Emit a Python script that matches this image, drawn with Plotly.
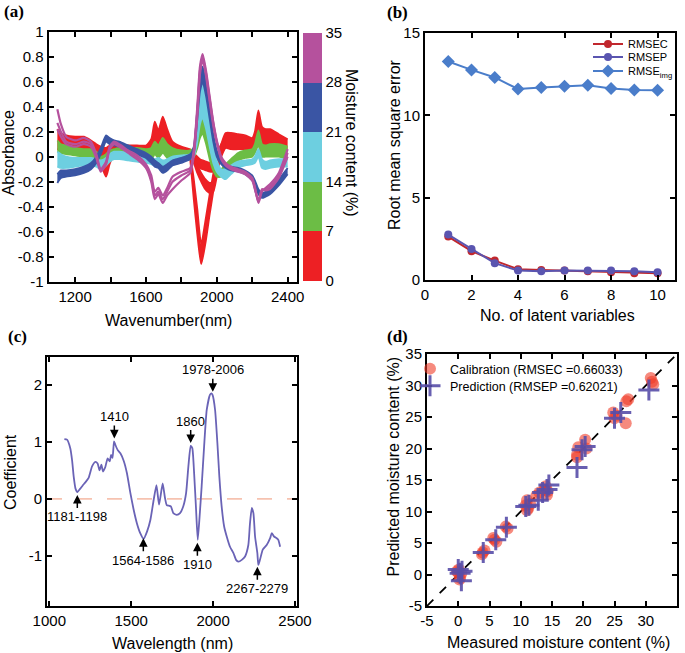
import plotly.graph_objects as go

# ---------------- data: panel (a) spectra ----------------
W = [1100, 1120, 1150, 1200, 1250, 1290, 1320, 1345, 1375, 1395,
     1420, 1450, 1500, 1550, 1600, 1630, 1650, 1670, 1695, 1720,
     1750, 1800, 1850, 1870, 1890, 1905, 1920, 1940, 1960, 1980,
     2000, 2025, 2050, 2080, 2120, 2160, 2200, 2215, 2235, 2255,
     2275, 2300, 2350, 2400]

RED_HI = [0.22, 0.19, 0.17, 0.16, 0.16, 0.13, 0.10, 0.08, 0.07, 0.09,
          0.10, 0.10, 0.09, 0.09, 0.09, 0.14, 0.28, 0.21, 0.32, 0.22,
          0.12, 0.08, 0.06, 0.03, 0.00, -0.02, -0.03, -0.04, -0.05, -0.06,
          -0.03, 0.10, 0.19, 0.19, 0.18, 0.17, 0.15, 0.20, 0.37, 0.24,
          0.22, 0.22, 0.18, 0.14]
RED_LO = [0.06, 0.05, 0.05, 0.04, 0.04, 0.02, -0.02, -0.06, -0.16, -0.06,
          0.02, 0.04, 0.04, 0.04, 0.04, 0.05, 0.10, 0.07, 0.12, 0.07,
          0.04, 0.02, 0.00, -0.02, -0.06, -0.09, -0.10, -0.11, -0.12, -0.12,
          -0.10, 0.00, 0.07, 0.06, 0.06, 0.06, 0.05, 0.07, 0.15, 0.06,
          0.06, 0.07, 0.07, 0.05]

W_LOOP = [1850, 1870, 1890, 1912, 1935, 1960, 1980, 2000, 2025, 2050]
RED_MID_HI = [0.03, -0.01, -0.07, -0.13, -0.18, -0.21, -0.20, -0.08, 0.06, 0.12]
RED_MID_LO = [0.00, -0.05, -0.13, -0.20, -0.26, -0.29, -0.28, -0.16, 0.02, 0.08]
RED_BIG_HI = [0.03, -0.18, -0.42, -0.70, -0.52, -0.30, -0.14, 0.00, 0.10, 0.15]
RED_BIG_LO = [-0.02, -0.34, -0.62, -0.86, -0.70, -0.46, -0.28, -0.10, 0.04, 0.08]

GREEN_HI = [0.13, 0.10, 0.09, 0.07, 0.06, 0.06, 0.04, 0.00, 0.02, 0.05,
            0.06, 0.07, 0.07, 0.07, 0.06, 0.07, 0.12, 0.09, 0.15, 0.10,
            0.07, 0.05, 0.05, 0.07, 0.16, 0.27, 0.31, 0.22, 0.08, -0.04,
            -0.10, -0.10, -0.06, -0.02, 0.03, 0.05, 0.06, 0.10, 0.21, 0.10,
            0.09, 0.10, 0.10, 0.08]
GREEN_LO = [0.04, 0.03, 0.02, 0.01, 0.00, -0.01, -0.04, -0.08, -0.05, -0.02,
            -0.01, -0.01, -0.02, -0.03, -0.04, -0.03, 0.02, -0.01, 0.03, -0.01,
            -0.03, -0.03, -0.02, 0.00, 0.07, 0.15, 0.18, 0.10, -0.02, -0.11,
            -0.16, -0.16, -0.12, -0.08, -0.03, -0.01, 0.00, 0.03, 0.09, 0.00,
            0.00, 0.00, 0.00, -0.02]

CYAN_HI = [0.04, 0.02, 0.00, -0.01, -0.01, -0.01, -0.02, -0.03, -0.01, 0.02,
           0.04, 0.04, 0.03, 0.02, 0.00, -0.01, -0.02, -0.01, -0.03, -0.02,
           0.00, 0.01, 0.02, 0.06, 0.30, 0.55, 0.63, 0.50, 0.30, 0.10,
           -0.03, -0.10, -0.10, -0.07, -0.04, -0.03, -0.02, 0.00, 0.06, -0.02,
           -0.04, -0.03, -0.02, -0.02]
CYAN_LO = [-0.08, -0.09, -0.09, -0.08, -0.07, -0.07, -0.08, -0.10, -0.07, -0.04,
           -0.02, -0.02, -0.03, -0.04, -0.05, -0.06, -0.07, -0.06, -0.08, -0.07,
           -0.04, -0.03, -0.02, 0.00, 0.12, 0.26, 0.31, 0.22, 0.08, -0.05,
           -0.12, -0.16, -0.18, -0.14, -0.09, -0.07, -0.06, -0.05, 0.00, -0.09,
           -0.10, -0.09, -0.08, -0.08]

BLUE_HI = [-0.14, -0.11, -0.11, -0.10, -0.08, -0.05, 0.00, 0.07, 0.17, 0.15,
           0.13, 0.12, 0.09, 0.06, 0.03, 0.00, -0.03, -0.05, -0.08, -0.06,
           -0.03, -0.01, 0.02, 0.08, 0.38, 0.63, 0.72, 0.58, 0.38, 0.18,
           0.05, -0.03, -0.06, -0.08, -0.09, -0.11, -0.15, -0.19, -0.26, -0.29,
           -0.28, -0.25, -0.18, -0.09]
BLUE_LO = [-0.21, -0.17, -0.16, -0.15, -0.13, -0.10, -0.05, 0.02, 0.12, 0.10,
           0.09, 0.08, 0.05, 0.02, -0.01, -0.05, -0.08, -0.09, -0.13, -0.11,
           -0.07, -0.05, -0.02, 0.03, 0.30, 0.52, 0.60, 0.48, 0.30, 0.12,
           0.00, -0.06, -0.09, -0.11, -0.12, -0.14, -0.19, -0.23, -0.30, -0.33,
           -0.32, -0.30, -0.23, -0.14]

MAG_1 = [0.38, 0.26, 0.16, 0.13, 0.15, 0.12, 0.02, -0.10, -0.04, 0.08,
         0.12, 0.10, 0.05, 0.01, -0.06, -0.15, -0.28, -0.25, -0.31, -0.25,
         -0.16, -0.12, -0.09, 0.05, 0.40, 0.72, 0.82, 0.68, 0.48, 0.28,
         0.13, 0.00, -0.05, -0.08, -0.10, -0.12, -0.17, -0.24, -0.37, -0.28,
         -0.25, -0.22, -0.13, 0.06]
MAG_2 = [0.27, 0.20, 0.12, 0.10, 0.12, 0.10, 0.00, -0.11, -0.05, 0.07,
         0.11, 0.09, 0.04, -0.01, -0.08, -0.18, -0.31, -0.28, -0.34, -0.28,
         -0.20, -0.15, -0.11, 0.03, 0.36, 0.69, 0.80, 0.66, 0.46, 0.27,
         0.12, -0.01, -0.06, -0.09, -0.11, -0.13, -0.18, -0.25, -0.36, -0.27,
         -0.26, -0.24, -0.15, 0.03]
MAG_3 = [0.22, 0.16, 0.10, 0.08, 0.10, 0.08, -0.01, -0.12, -0.06, 0.06,
         0.10, 0.08, 0.03, -0.02, -0.09, -0.20, -0.34, -0.30, -0.37, -0.31,
         -0.26, -0.19, -0.13, 0.01, 0.32, 0.66, 0.78, 0.64, 0.44, 0.25,
         0.11, -0.02, -0.07, -0.10, -0.12, -0.14, -0.19, -0.26, -0.35, -0.26,
         -0.27, -0.26, -0.17, 0.00]

MOIST_TICKS = [0, 7, 14, 21, 28, 35]
A_XTICKS = [1200, 1600, 2000, 2400]
A_XMINOR = [1400, 1800, 2200]
A_YTICKS = [1, 0.8, 0.6, 0.4, 0.2, 0, -0.2, -0.4, -0.6, -0.8, -1]
A_YLABELS = ["1", "0.8", "0.6", "0.4", "0.2", "0", "-0.2", "-0.4", "-0.6", "-0.8", "-1"]

# ---------------- data: panel (b) ----------------
LV = [1, 2, 3, 4, 5, 6, 7, 8, 9, 10]
RMSEC = [2.64, 1.75, 1.18, 0.65, 0.61, 0.57, 0.53, 0.47, 0.41, 0.41]
RMSEP = [2.76, 1.89, 1.02, 0.57, 0.53, 0.57, 0.57, 0.57, 0.53, 0.47]
RMSE_IMG = [13.27, 12.76, 12.30, 11.60, 11.69, 11.77, 11.83, 11.63, 11.54, 11.52]

# ---------------- data: panel (c) ----------------
COEF_WL = [1092, 1108, 1128, 1139, 1149, 1160, 1172, 1189, 1205, 1220,
           1240, 1261, 1281, 1295, 1307, 1318, 1328, 1342, 1356, 1369,
           1377, 1386, 1395, 1403, 1417, 1434, 1454, 1474, 1495, 1515,
           1535, 1555, 1576, 1597, 1617, 1637, 1654, 1670, 1692, 1706,
           1717, 1730, 1742, 1757, 1778, 1798, 1818, 1835, 1849, 1863,
           1873, 1884, 1896, 1906, 1916, 1930, 1945, 1961, 1981, 1990,
           1997, 2012, 2026, 2038, 2052, 2067, 2083, 2103, 2124, 2140,
           2154, 2175, 2195, 2215, 2225, 2236, 2246, 2256, 2270, 2276,
           2286, 2303, 2327, 2348, 2358, 2372, 2388, 2398, 2409]
COEF_VAL = [1.05, 1.04, 0.89, 0.68, 0.39, 0.18, 0.12, 0.18, 0.24, 0.29,
            0.37, 0.57, 0.65, 0.62, 0.50, 0.60, 0.48, 0.56, 0.71, 0.66,
            0.77, 0.72, 1.01, 0.95, 0.86, 0.80, 0.67, 0.45, 0.10, -0.19,
            -0.43, -0.60, -0.70, -0.57, -0.37, -0.02, 0.24, -0.10, 0.27, 0.02,
            -0.11, -0.12, -0.13, -0.25, -0.28, -0.25, -0.13, 0.10, 0.57, 0.93,
            0.89, 0.45, -0.19, -0.72, -0.37, 0.22, 0.92, 1.56, 1.83, 1.85,
            1.82, 1.56, 0.98, 0.39, -0.13, -0.48, -0.66, -0.84, -0.95, -1.07,
            -1.10, -1.07, -1.01, -0.81, -0.43, -0.16, -0.25, -0.66, -0.95, -1.16,
            -1.07, -0.89, -0.81, -0.69, -0.60, -0.66, -0.69, -0.72, -0.84]

PEAK_LABELS = ["1410", "1860", "1978-2006", "1181-1198", "1564-1586", "1910", "2267-2279"]
PEAK_X = [1397, 1863, 1998, 1171, 1574, 1904, 2270]
PEAK_Y = [1.06, 0.98, 1.88, 0.07, -0.69, -0.77, -1.19]
PEAK_UP = [True, True, True, False, False, False, False]

# ---------------- data: panel (d) ----------------
CAL_X = [0.0, 0.3, -0.2, 0.5, 0.2, 0.1, 3.8, 4.2, 3.9, 5.8, 6.1, 5.6, 7.6, 7.9,
         11.0, 11.2, 11.0, 11.5, 10.8, 12.5, 13.0, 14.2, 14.0, 13.8, 14.3,
         19.0, 19.2, 19.0, 20.3, 20.5, 24.8, 25.0, 25.3, 26.9, 27.2, 26.8,
         30.8, 31.0, 31.2]
CAL_Y = [0.3, -0.5, 0.5, 0.2, -0.8, 0.8, 3.2, 3.8, 3.5, 5.5, 5.2, 5.8, 7.6, 7.3,
         11.8, 10.5, 10.2, 11.2, 11.0, 12.5, 13.0, 12.6, 14.0, 13.5, 13.2,
         19.0, 20.2, 18.6, 21.4, 20.0, 25.7, 24.8, 25.2, 27.5, 27.8, 24.0,
         31.2, 30.6, 30.2]
PRED_X = [0.3, 0.5, 0.0, 0.6, 4.0, 6.0, 7.7, 10.8, 11.3, 12.8, 13.5, 14.5, 14.2,
          19.0, 19.8, 20.3, 25.0, 26.0, 30.5]
PRED_Y = [0.2, -1.0, 0.8, 0.5, 3.5, 5.5, 7.5, 10.8, 11.0, 11.8, 13.0, 14.2, 13.5,
          17.0, 19.8, 20.3, 24.8, 25.7, 29.3]
IDENTITY = [-5, 35]
D_TICKS = [-5, 0, 5, 10, 15, 20, 25, 30, 35]

# ---------------- styling ----------------
FW, FH = 685, 653
FONT = "Liberation Sans, Arial, sans-serif"
C_RED, C_GREEN, C_CYAN, C_BLUE, C_MAG = "#ed2024", "#6cbd45", "#6dcfe0", "#3a55a4", "#b5519d"


def px(x):
    return x / FW


def py(y):
    return 1 - y / FH


fig = go.Figure()

# ---- panel (a): bands of spectra ----
bands = [
    (W, RED_LO, RED_HI, C_RED),
    (W_LOOP, RED_MID_LO, RED_MID_HI, C_RED),
    (W_LOOP, RED_BIG_LO, RED_BIG_HI, C_RED),
    (W, GREEN_LO, GREEN_HI, C_GREEN),
    (W, CYAN_LO, CYAN_HI, C_CYAN),
    (W, BLUE_LO, BLUE_HI, C_BLUE),
]
for wl, lo, hi, col in bands:
    fig.add_trace(go.Scatter(x=wl, y=lo, mode="lines", line=dict(color=col, width=1.8, shape="spline", smoothing=0.6),
                             showlegend=False, hoverinfo="skip", xaxis="x", yaxis="y"))
    fig.add_trace(go.Scatter(x=wl, y=hi, mode="lines", line=dict(color=col, width=1.8, shape="spline", smoothing=0.6),
                             fill="tonexty", fillcolor=col, showlegend=False, hoverinfo="skip", xaxis="x", yaxis="y"))
for m in (MAG_1, MAG_2, MAG_3):
    fig.add_trace(go.Scatter(x=W, y=m, mode="lines", line=dict(color=C_MAG, width=2.2, shape="spline", smoothing=0.6),
                             showlegend=False, hoverinfo="skip", xaxis="x", yaxis="y"))

cs = [[0, C_RED], [0.2, C_RED], [0.2, C_GREEN], [0.4, C_GREEN], [0.4, C_CYAN], [0.6, C_CYAN],
      [0.6, C_BLUE], [0.8, C_BLUE], [0.8, C_MAG], [1, C_MAG]]
fig.add_trace(go.Scatter(x=[None], y=[None], mode="markers", showlegend=False, hoverinfo="skip",
                         xaxis="x", yaxis="y",
                         marker=dict(color=[0], cmin=0, cmax=35, colorscale=cs, showscale=True,
                                     colorbar=dict(x=px(303), xanchor="left", xpad=0, ypad=0,
                                                   y=py(156.5), yanchor="middle", len=248 / FH, lenmode="fraction",
                                                   thickness=19, outlinewidth=0, tickvals=MOIST_TICKS,
                                                   ticks="", ticklen=0,
                                                   tickfont=dict(size=15, color="black", family=FONT)))))

# ---- panel (b) ----
fig.add_trace(go.Scatter(x=LV, y=RMSEC, name="RMSEC", mode="lines+markers", xaxis="x2", yaxis="y2",
                         line=dict(color="#c1272d", width=2), marker=dict(symbol="circle", size=8, color="#c1272d"),
                         legend="legend"))
fig.add_trace(go.Scatter(x=LV, y=RMSEP, name="RMSEP", mode="lines+markers", xaxis="x2", yaxis="y2",
                         line=dict(color="#5a55b0", width=2), marker=dict(symbol="circle", size=8, color="#5a55b0"),
                         legend="legend3"))
fig.add_trace(go.Scatter(x=LV, y=RMSE_IMG, name="RMSE<sub>img</sub>", mode="lines+markers", xaxis="x2", yaxis="y2",
                         line=dict(color="#4a7dca", width=2), marker=dict(symbol="diamond", size=10, color="#4a7dca"),
                         legend="legend4"))

# ---- panel (c) ----
fig.add_trace(go.Scatter(x=COEF_WL, y=COEF_VAL, mode="lines", xaxis="x3", yaxis="y3", showlegend=False,
                         line=dict(color="#6a63b6", width=1.8, shape="spline", smoothing=0.5)))

# ---- panel (d) ----
fig.add_trace(go.Scatter(x=IDENTITY, y=IDENTITY, mode="lines", xaxis="x4", yaxis="y4", showlegend=False,
                         line=dict(color="black", width=1.8, dash="dash")))
fig.add_trace(go.Scatter(x=CAL_X, y=CAL_Y, mode="markers", name="Calibration (RMSEC =0.66033)",
                         xaxis="x4", yaxis="y4", legend="legend2",
                         marker=dict(symbol="circle", size=12, color="rgba(240,60,40,0.6)")))
fig.add_trace(go.Scatter(x=PRED_X, y=PRED_Y, mode="markers", name="Prediction (RMSEP =0.62021)",
                         xaxis="x4", yaxis="y4", legend="legend5",
                         marker=dict(symbol="cross-thin", size=15, color="rgba(88,78,168,0.9)",
                                     line=dict(width=3, color="rgba(88,78,168,0.9)"))))

axis_common = dict(showline=True, linecolor="black", linewidth=2, mirror="ticks", ticks="inside",
                   ticklen=5, tickwidth=1.5, tickcolor="black", showgrid=False, zeroline=False,
                   tickfont=dict(size=15, color="black", family=FONT))


def leg(x, y, size):
    return dict(x=px(x), y=py(y), xanchor="left", yanchor="middle", bgcolor="rgba(0,0,0,0)",
                font=dict(size=size, family=FONT, color="black"), tracegroupgap=0, itemwidth=30,
                traceorder="normal", borderwidth=0)


layout = dict(
    width=FW, height=FH, margin=dict(l=0, r=0, t=0, b=0, autoexpand=False),
    paper_bgcolor="white", plot_bgcolor="white",
    font=dict(family=FONT, color="black"),
    xaxis=dict(domain=[px(48.5), px(296.5)], range=[1050, 2450], tickvals=A_XTICKS,
               minor=dict(tickvals=A_XMINOR, ticks="inside", ticklen=5, tickwidth=1.5, tickcolor="black"),
               anchor="y", **axis_common),
    yaxis=dict(domain=[py(281.7), py(31.7)], range=[-1, 1], tickvals=A_YTICKS, ticktext=A_YLABELS,
               anchor="x", **axis_common),
    xaxis2=dict(domain=[px(425), px(675)], range=[0, 10.75], tickvals=[0, 2, 4, 6, 8, 10],
                anchor="y2", **axis_common),
    yaxis2=dict(domain=[py(280), py(33)], range=[0, 15], tickvals=[0, 5, 10, 15], anchor="x2", **axis_common),
    xaxis3=dict(domain=[px(47), px(297)], range=[986, 2512], tickvals=[1000, 1500, 2000, 2500],
                anchor="y3", **axis_common),
    yaxis3=dict(domain=[py(606), py(357)], range=[-1.88, 2.49], tickvals=[-1, 0, 1, 2],
                ticktext=["-1", "0", "1", "2"], anchor="x3", **axis_common),
    xaxis4=dict(domain=[px(427), px(677)], range=[-5, 35], tickvals=D_TICKS,
                ticktext=[str(v) for v in D_TICKS], anchor="y4", **axis_common),
    yaxis4=dict(domain=[py(606), py(354)], range=[-5, 35], tickvals=D_TICKS,
                ticktext=[str(v) for v in D_TICKS], anchor="x4", **axis_common),
    legend=leg(588, 44, 11),
    legend3=leg(588, 57, 11),
    legend4=leg(588, 71, 11),
    legend2=leg(410, 369, 12.5),
    legend5=leg(410, 386, 12.5),
)
fig.update_layout(**layout)

# zero line in (c)
fig.add_shape(type="line", xref="x3 domain", yref="y3", x0=0, x1=1, y0=0, y1=0,
              line=dict(color="#f6c2b0", width=1.8, dash="longdash"), layer="below")

ann = []
# panel letters
for lab, x, y in [("(a)", 14, 12), ("(b)", 397, 12.5), ("(c)", 17, 336), ("(d)", 397, 336)]:
    ann.append(dict(text="<b>%s</b>" % lab, x=px(x), y=py(y), xref="paper", yref="paper", showarrow=False,
                    xanchor="center", yanchor="middle",
                    font=dict(size=17, family="Liberation Serif, Times New Roman, serif", color="black")))
# axis titles
titles = [
    ("Absorbance", 8.5, 153, -90), ("Wavenumber(nm)", 168, 320, 0),
    ("Moisture content (%)", 352, 143, 90),
    ("Root mean square error", 394, 145, -90), ("No. of latent variables", 557, 315, 0),
    ("Coefficient", 11, 472, -90), ("Wavelength (nm)", 172, 643, 0),
    ("Predicted moisture content (%)", 392.5, 467, -90), ("Measured moisture content (%)", 558, 642, 0),
]
for t, x, y, ang in titles:
    ann.append(dict(text=t, x=px(x), y=py(y), xref="paper", yref="paper", showarrow=False, textangle=ang,
                    xanchor="center", yanchor="middle", font=dict(size=16, family=FONT, color="black")))
# arrows in (c)
for lab, x, y, up in zip(PEAK_LABELS, PEAK_X, PEAK_Y, PEAK_UP):
    ann.append(dict(text=lab, x=x, y=y, xref="x3", yref="y3", showarrow=True, arrowhead=2, arrowsize=1.15,
                    arrowwidth=1.5, arrowcolor="black", ax=0, ay=-22 if up else 22, standoff=0,
                    font=dict(size=13, family=FONT, color="black")))
fig.update_layout(annotations=ann)

fig.write_html("out.html", config={"displayModeBar": False},
               post_script="document.body.style.margin='0px';")
